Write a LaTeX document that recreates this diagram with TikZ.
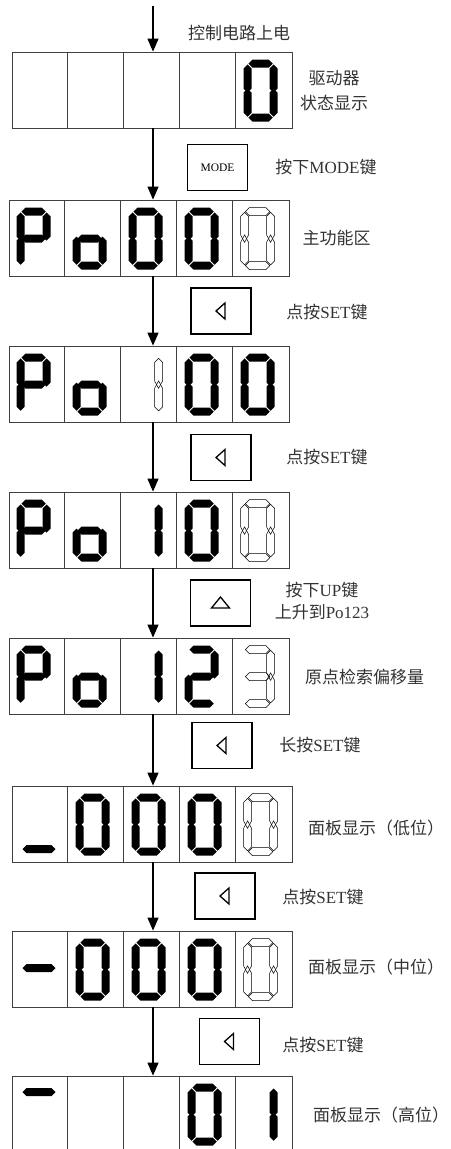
\documentclass[tikz,border=0pt]{standalone}
\usepackage{fontspec}
\setmainfont{Liberation Serif}
\newfontfamily\cjk{Noto Sans CJK SC}
\usepackage{tikz}
\usetikzlibrary{arrows.meta}

% segment outlines, digit frame 34 x 62, y counted downwards
\newcommand{\hseg}[3]{(#1,#3) -- (#1+4,#3-4) -- (#2-4,#3-4) -- (#2,#3) -- (#2-4,#3+4) -- (#1+4,#3+4) -- cycle}
\newcommand{\vseg}[3]{(#1,#2) -- (#1+4,#2+4) -- (#1+4,#3-4) -- (#1,#3) -- (#1-4,#3-4) -- (#1-4,#2+4) -- cycle}
\newcommand{\vsegx}[5]{(#1,#2) -- (#1+4,#3) -- (#1+4,#4) -- (#1,#5) -- (#1-4,#4) -- (#1-4,#3) -- cycle}
\newcommand{\dsega}{\hseg{4.8}{29.2}{4}}
\newcommand{\dsegg}{\hseg{4.8}{29.2}{31}}
\newcommand{\dsegd}{\hseg{4.8}{29.2}{58}}
\newcommand{\dsegf}{\vseg{4}{4.8}{33}}
\newcommand{\dsege}{\vseg{4}{29}{57.2}}
\newcommand{\dsegb}{\vseg{30}{4.8}{33}}
\newcommand{\dsegc}{\vseg{30}{29}{57.2}}
% hollow (blinking) verticals, long tips crossing
\newcommand{\dsegF}{\vsegx{4}{4.8}{8.8}{27.25}{34.75}}
\newcommand{\dsegE}{\vsegx{4}{27.25}{34.75}{53.2}{57.2}}
\newcommand{\dsegB}{\vsegx{30}{4.8}{8.8}{27.25}{34.75}}
\newcommand{\dsegC}{\vsegx{30}{27.25}{34.75}{53.2}{57.2}}
\newcommand{\dsegh}{\hseg{3}{36}{8.5}}
\newcommand{\dsegm}{\hseg{3}{36}{29.5}}
\newcommand{\dsegl}{\hseg{3}{36}{55.5}}
% #1 panel, #2 cell, #3 segments, #4 style
\newcommand{\digit}[4]{%
  \begin{scope}[shift={(#1.north west)}, xshift={56*#2-48}, yshift=-8]
    \foreach \s in {#3} {\path[#4] \csname dseg\s\endcsname;}
  \end{scope}}

\tikzset{
    panel/.style   = {draw=black!75, line width=0.8pt, minimum width=280pt,
                      minimum height=76pt, inner sep=0pt},
    divider/.style = {draw=black!75, line width=0.8pt},
    solid/.style   = {fill=black},
    blink/.style   = {draw=black, line width=0.5pt},
    keybox/.style  = {draw, line width=1.5pt, minimum width=60pt, minimum height=46pt,
                      inner sep=0pt, font=\fontsize{11.5}{13}\selectfont},
    keymark/.style = {draw, line width=1.3pt},
    flow/.style    = {-{Triangle[width=11pt,length=13pt]}, line width=1.2pt},
    note/.style    = {inner sep=0pt, text=black!80, font=\cjk\fontsize{17}{24}\selectfont}
}

\begin{document}
\begin{tikzpicture}[x=1pt, y=-1pt]
    \useasboundingbox (0,0) rectangle (450,1149);

    % --- panels ---
    \node[panel] (disp1) at (152,90)   {};
    \node[panel] (disp2) at (149,238)  {};
    \node[panel] (disp3) at (149,384)  {};
    \node[panel] (disp4) at (149,530)  {};
    \node[panel] (disp5) at (149,676)  {};
    \node[panel] (disp6) at (152,824)  {};
    \node[panel] (disp7) at (152,969)  {};
    \node[panel] (disp8) at (152,1114) {};
    \foreach \p in {1,...,8}
        \foreach \k in {1,...,4}
            \draw[divider] ([xshift=\k*56]disp\p.north west) -- ([xshift=\k*56]disp\p.south west);

    % --- digits ---
    \digit{disp1}{5}{a,b,c,d,e,f}{solid}

    \digit{disp2}{1}{a,b,f,g,e}{solid}
    \digit{disp2}{2}{c,d,e,g}{solid}
    \digit{disp2}{3}{a,b,c,d,e,f}{solid}
    \digit{disp2}{4}{a,b,c,d,e,f}{solid}
    \digit{disp2}{5}{a,B,C,d,E,F}{blink}

    \digit{disp3}{1}{a,b,f,g,e}{solid}
    \digit{disp3}{2}{c,d,e,g}{solid}
    \digit{disp3}{3}{B,C}{blink}
    \digit{disp3}{4}{a,b,c,d,e,f}{solid}
    \digit{disp3}{5}{a,b,c,d,e,f}{solid}

    \digit{disp4}{1}{a,b,f,g,e}{solid}
    \digit{disp4}{2}{c,d,e,g}{solid}
    \digit{disp4}{3}{b,c}{solid}
    \digit{disp4}{4}{a,b,c,d,e,f}{solid}
    \digit{disp4}{5}{a,B,C,d,E,F}{blink}

    \digit{disp5}{1}{a,b,f,g,e}{solid}
    \digit{disp5}{2}{c,d,e,g}{solid}
    \digit{disp5}{3}{b,c}{solid}
    \digit{disp5}{4}{a,b,g,e,d}{solid}
    \digit{disp5}{5}{a,B,g,C,d}{blink}

    \digit{disp6}{1}{l}{solid}
    \digit{disp6}{2}{a,b,c,d,e,f}{solid}
    \digit{disp6}{3}{a,b,c,d,e,f}{solid}
    \digit{disp6}{4}{a,b,c,d,e,f}{solid}
    \digit{disp6}{5}{a,B,C,d,E,F}{blink}

    \digit{disp7}{1}{m}{solid}
    \digit{disp7}{2}{a,b,c,d,e,f}{solid}
    \digit{disp7}{3}{a,b,c,d,e,f}{solid}
    \digit{disp7}{4}{a,b,c,d,e,f}{solid}
    \digit{disp7}{5}{a,B,C,d,E,F}{blink}

    \digit{disp8}{1}{h}{solid}
    \digit{disp8}{4}{a,b,c,d,e,f}{solid}
    \digit{disp8}{5}{b,c}{solid}

    % --- keys ---
    \node[keybox] (keyMode) at (217.5,167.5) {MODE};
    \node[keybox] (keySet1) at (221,311)     {};
    \node[keybox] (keySet2) at (221,457.5)   {};
    \node[keybox] (keyUp)   at (220.5,603)   {};
    \node[keybox] (keyLong) at (222,745.5)   {};
    \node[keybox] (keySet3) at (225,896)     {};
    \node[keybox] (keySet4) at (229.5,1041.5) {};
    \foreach \k in {keySet1,keySet2,keyLong,keySet3,keySet4}
        \draw[keymark] ([xshift=-5]\k.center) -- ++(9,-8) -- ++(0,16) -- cycle;
    \draw[keymark] ([yshift=6]keyUp.center) -- ++(9,11) -- ++(-18,0) -- cycle;

    % --- flow ---
    \coordinate (start) at (153,6);
    \draw[flow] (start) -- (start |- disp1.north);
    \draw[flow] (start |- disp1.south) -- (start |- disp2.north);
    \draw[flow] (start |- disp2.south) -- (start |- disp3.north);
    \draw[flow] (start |- disp3.south) -- (start |- disp4.north);
    \draw[flow] (start |- disp4.south) -- (start |- disp5.north);
    \draw[flow] (start |- disp5.south) -- (start |- disp6.north);
    \draw[flow] (start |- disp6.south) -- (start |- disp7.north);
    \draw[flow] (start |- disp7.south) -- (start |- disp8.north);

    % --- labels ---
    \node[note] (lblPower) at (239,33) {控制电路上电};
    \node[note, align=center, font=\cjk\fontsize{17}{25}\selectfont] (lblStatus) at (334,90.5) {驱动器\\状态显示};
    \node[note] (lblMode) at (326,167) {按下\textrm{MODE}键};
    \node[note] (lblMain) at (336.5,238) {主功能区};
    \node[note] (lblSet1) at (327,312) {点按\textrm{SET}键};
    \node[note] (lblSet2) at (327,457) {点按\textrm{SET}键};
    \node[note, align=center, font=\cjk\fontsize{17}{22}\selectfont] (lblUp) at (322,601) {按下\textrm{UP}键\\上升到\textrm{Po123}};
    \node[note] (lblOrigin) at (364.5,677) {原点检索偏移量};
    \node[note] (lblLong) at (320,745) {长按\textrm{SET}键};
    \node[note, anchor=west] (lblLow) at (308,828) {面板显示（低位）};
    \node[note] (lblSet3) at (323,897) {点按\textrm{SET}键};
    \node[note, anchor=west] (lblMid) at (308,967) {面板显示（中位）};
    \node[note] (lblSet4) at (323,1045) {点按\textrm{SET}键};
    \node[note, anchor=west] (lblHigh) at (313,1115) {面板显示（高位）};
\end{tikzpicture}
\end{document}
